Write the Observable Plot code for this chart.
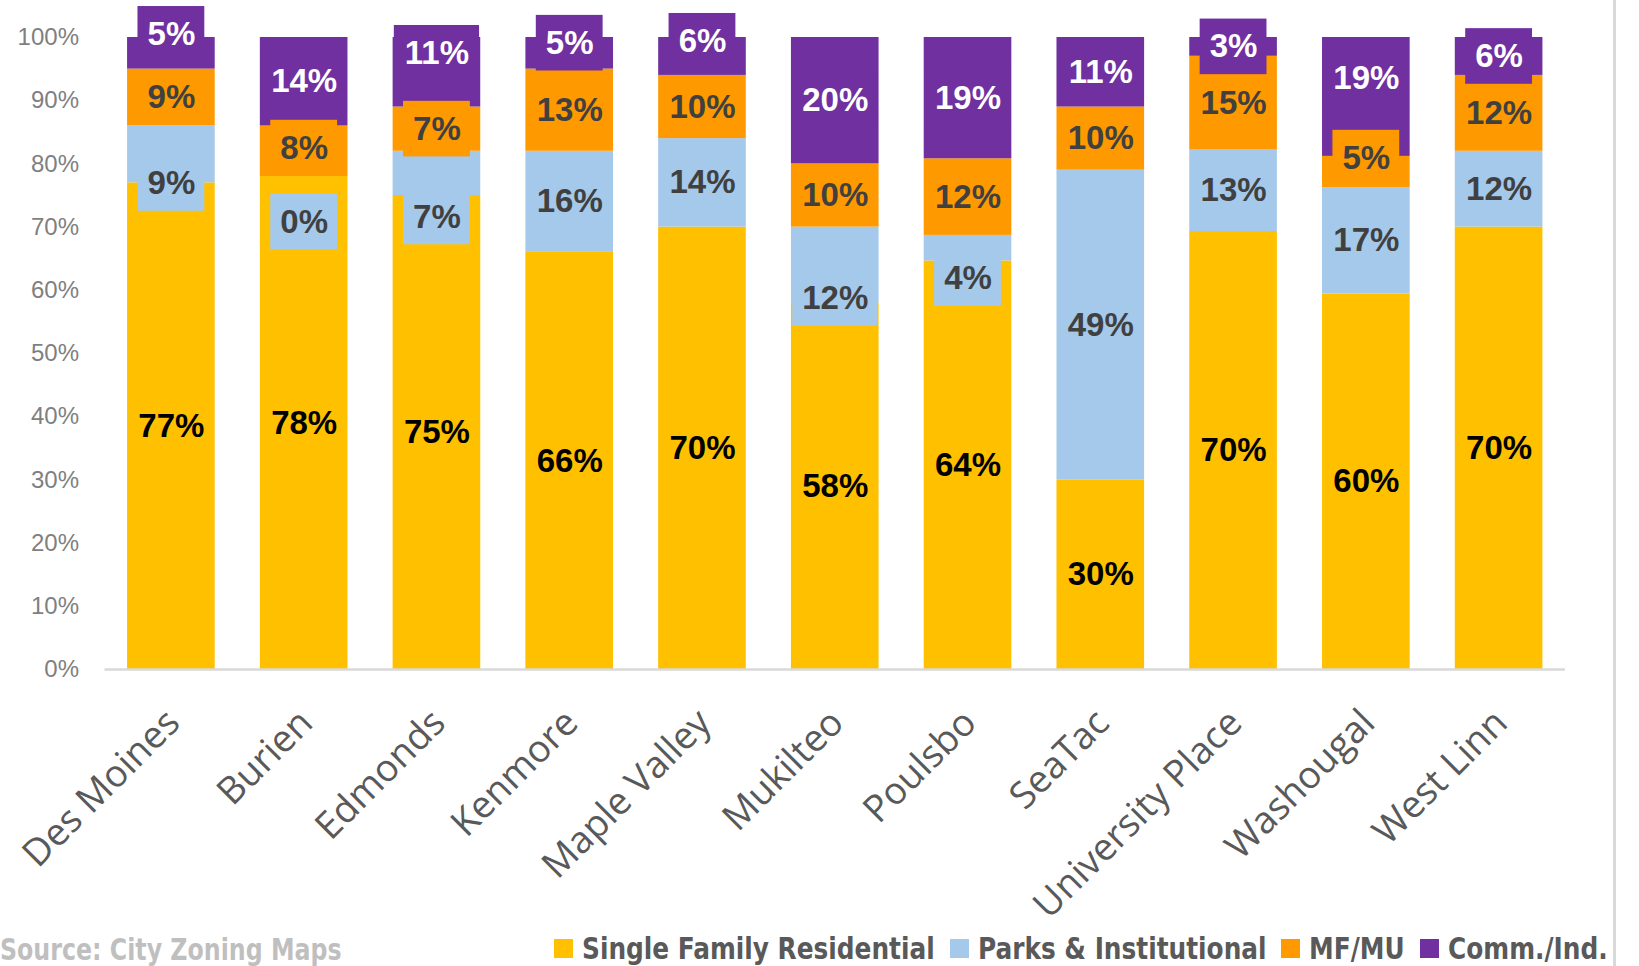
<!DOCTYPE html>
<html><head><meta charset="utf-8">
<script src="https://cdn.jsdelivr.net/npm/d3@7"></script>
<script src="https://cdn.jsdelivr.net/npm/@observablehq/plot@0.6"></script>
<style>
body{margin:0;background:#fff;}
#wrap{position:relative;width:1639px;height:966px;overflow:hidden;background:#fff;}
#chart{position:absolute;left:0;top:0;}
#border{position:absolute;left:1613px;top:0;width:3px;height:966px;background:#d9d9d9;}
#legend{position:absolute;left:554px;top:933px;height:31px;display:flex;align-items:center;white-space:nowrap;
  font-family:"Liberation Sans Narrow","DejaVu Sans Condensed","Liberation Sans",sans-serif;font-weight:bold;font-size:31px;line-height:1;color:#595959;}
#legend .item{display:flex;align-items:center;margin-right:15px;}
#legend .sw{width:19px;height:19px;margin-right:9px;flex:none;}
#legend span{display:inline-block;transform-origin:0 50%;}
#source{position:absolute;left:0px;top:934px;white-space:nowrap;transform-origin:0 50%;
  font-family:"Liberation Sans Narrow","DejaVu Sans Condensed","Liberation Sans",sans-serif;font-weight:bold;font-size:31px;line-height:1;color:#bfbfbf;}
g[aria-label="x-axis tick label"]{font-family:"Open Sans",sans-serif;font-size:37.5px;fill:#595959;}
g[aria-label="y-axis tick label"]{font-family:"Liberation Sans",Arial,sans-serif;font-size:24px;fill:#7f7f7f;}
</style></head>
<body>
<div id="wrap"><div id="chart"></div><div id="legend"></div><div id="source">Source: City Zoning Maps</div><div id="border"></div></div>
<script>
const cities = ["Des Moines","Burien","Edmonds","Kenmore","Maple Valley","Mukilteo","Poulsbo","SeaTac","University Place","Washougal","West Linn"];
const sfr   = [77,78,75,66,70,58,64,30,70,60,70];
const parks = [9,0,7,16,14,12,4,49,13,17,12];
const mfmu  = [9,8,7,13,10,10,12,10,15,5,12];
const comm  = [5,14,11,5,6,20,19,11,3,19,6];
const seriesNames = ["Single Family Residential","Parks & Institutional","MF/MU","Comm./Ind."];
// label displacement from segment centre, in percentage points (as placed in the original)
const sfrNudge   = [0,0,0,0,0,0,0,0,0,0,0];
const parksNudge = [-4.6,-7.2,-6.9,0,0,-5.3,-4.8,0,0,0,0];
const mfmuNudge  = [0,0.5,0,0,0,0,0,0,0,2.2,0];
const commNudge  = [3,0,3,1.6,2.4,0,0,0,0,2.9,0];

const seriesColors = ["#FFC000","#A5C9EB","#FF9900","#7030A0"];
const textColors = ["#000000","#404040","#404040","#ffffff"];
const seriesValues = [sfr, parks, mfmu, comm];
const nudges = [sfrNudge, parksNudge, mfmuNudge, commNudge];

const rows = [];
cities.forEach((city, i) => {
  const total = d3.sum(seriesValues, s => s[i]);
  let acc = 0;
  seriesValues.forEach((vals, k) => {
    const v = vals[i] / total * 100;
    const y1 = acc, y2 = acc + v; acc = y2;
    rows.push({city, series: seriesNames[k], k, value: vals[i], y1, y2,
      label: vals[i] + "%", ly: (y1 + y2) / 2 + nudges[k][i]});
  });
});

const BOX = 4.4;
const chart = Plot.plot({
  width: 1639, height: 930,
  marginTop: 37, marginBottom: 261, marginLeft: 104.5, marginRight: 74,
  x: {domain: cities, paddingInner: 0.34, paddingOuter: 0.17, round: false},
  y: {domain: [0, 100]},
  color: {domain: seriesNames, range: seriesColors},
  marks: [
    Plot.barY(rows, {x: "city", y1: "y1", y2: "y2", fill: "series"}),
    Plot.barY(rows.filter(d => d.label.length === 2), {x: "city", y1: d => d.ly - BOX, y2: d => d.ly + BOX, fill: "series", insetLeft: 10.4, insetRight: 10.4}),
    Plot.barY(rows.filter(d => d.label.length === 3), {x: "city", y1: d => d.ly - BOX, y2: d => d.ly + BOX, fill: "series", insetLeft: 1.2, insetRight: 1.2}),
    ...seriesNames.map((s, k) => Plot.text(rows.filter(d => d.k === k), {
      x: "city", y: "ly", text: "label", fill: textColors[k],
      fontSize: 33, fontWeight: "bold", fontFamily: "Liberation Sans, Arial, sans-serif"})),
    Plot.ruleY([0], {stroke: "#d9d9d9", strokeWidth: 2.5}),
    Plot.axisY({ticks: d3.range(0, 101, 10), tickFormat: d => d + "%", tickSize: 0, tickPadding: 26, fontSize: 24, label: null}),
    Plot.axisX({tickRotate: -45, tickSize: 0, tickPadding: 47, dx: 2, fontSize: 37.5, label: null})
  ]
});
document.getElementById("chart").appendChild(chart);

function squeeze(el, s) {
  const w = el.getBoundingClientRect().width;
  el.style.transform = `scaleX(${s})`;
  el.style.marginRight = `${-w * (1 - s)}px`;
}
const legend = document.getElementById("legend");
seriesNames.forEach((s, k) => {
  const it = document.createElement("div"); it.className = "item";
  const sw = document.createElement("div"); sw.className = "sw"; sw.style.background = seriesColors[k];
  const tx = document.createElement("span"); tx.textContent = s;
  it.appendChild(sw); it.appendChild(tx); legend.appendChild(it);
  squeeze(tx, 0.89);
});
document.getElementById("source").style.transform = "scaleX(0.85)";
</script>
</body></html>
